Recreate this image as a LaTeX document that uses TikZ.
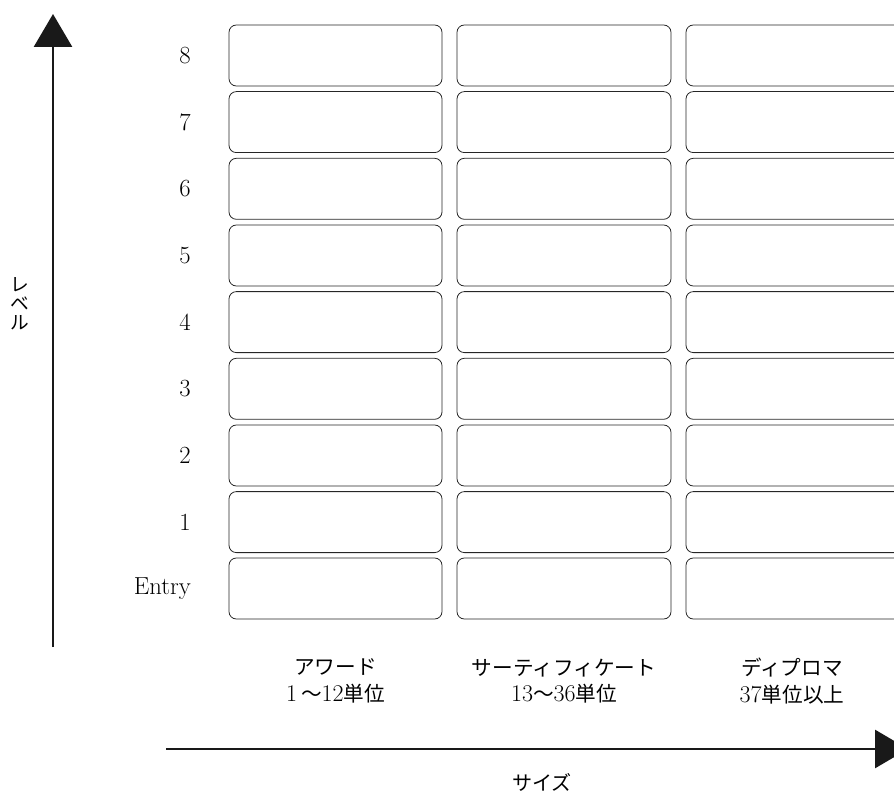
\documentclass[tikz,border=0pt]{standalone}
\usepackage{fontspec}
\newfontfamily\jpfont[Scale=0.86]{Noto Sans CJK JP}
\usetikzlibrary{arrows.meta}

\begin{document}
\begin{tikzpicture}[x=0.75pt,y=-0.75pt,
    unitbox/.style={draw=black!85,line width=0.6pt,rounded corners=5.5pt},
    axis/.style={line width=2.2pt,draw=black!90,-{Triangle[length=24.75pt,width=28.5pt]}},
    lvl/.style={anchor=east,inner sep=0pt,font=\fontsize{18.5}{20}\selectfont},
    sizelabel/.style={align=center,inner sep=0pt,font=\fontsize{18}{20}\selectfont}]
    \useasboundingbox (0,0) rectangle (894,792);
    % level labels
    \node[lvl] (l8) at (191,55.5) {8};
    \node[lvl] (l7) at (191,122.1) {7};
    \node[lvl] (l6) at (191,188.8) {6};
    \node[lvl] (l5) at (191,255.5) {5};
    \node[lvl] (l4) at (191,322.1) {4};
    \node[lvl] (l3) at (191,388.8) {3};
    \node[lvl] (l2) at (191,455.5) {2};
    \node[lvl] (l1) at (191,522.1) {1};
    \node[lvl] (lE) at (191,588.5) {Entry};
    % boxes
    \draw[unitbox] (229,25) rectangle (442,86) (457,25) rectangle (671,86) (686,25) rectangle (960,86);
    \draw[unitbox] (229,91.6) rectangle (442,152.6) (457,91.6) rectangle (671,152.6) (686,91.6) rectangle (960,152.6);
    \draw[unitbox] (229,158.3) rectangle (442,219.3) (457,158.3) rectangle (671,219.3) (686,158.3) rectangle (960,219.3);
    \draw[unitbox] (229,225) rectangle (442,286) (457,225) rectangle (671,286) (686,225) rectangle (960,286);
    \draw[unitbox] (229,291.6) rectangle (442,352.6) (457,291.6) rectangle (671,352.6) (686,291.6) rectangle (960,352.6);
    \draw[unitbox] (229,358.3) rectangle (442,419.3) (457,358.3) rectangle (671,419.3) (686,358.3) rectangle (960,419.3);
    \draw[unitbox] (229,425) rectangle (442,486) (457,425) rectangle (671,486) (686,425) rectangle (960,486);
    \draw[unitbox] (229,491.6) rectangle (442,552.6) (457,491.6) rectangle (671,552.6) (686,491.6) rectangle (960,552.6);
    \draw[unitbox] (229,558) rectangle (442,619) (457,558) rectangle (671,619) (686,558) rectangle (960,619);
    % size labels
    \node[sizelabel] (award) at (335.5,681) {{\jpfont アワード}\\1\,{\jpfont 〜}12{\jpfont 単位}};
    \node[sizelabel] (certificate) at (564,681) {{\jpfont サーティフィケート}\\13{\jpfont 〜}36{\jpfont 単位}};
    \node[sizelabel] (diploma) at (792,681) {{\jpfont ディプロマ}\\37{\jpfont 単位以上}};
    % axes
    \coordinate (ybot) at (53,647);
    \coordinate (ytop) at (53,14);
    \draw[axis] (ybot) -- (ytop);
    \coordinate (xleft) at (166,749);
    \coordinate (xright) at (908,749);
    \draw[axis] (xleft) -- (xright);
    \node[align=center,inner sep=0pt,font=\fontsize{16.3}{14.3}\selectfont\jpfont] (level) at (20,304) {レ\\ベ\\ル};
    \node[sizelabel,font=\fontsize{17.5}{18}\selectfont\jpfont] (size) at (542,782) {サイズ};
\end{tikzpicture}
\end{document}
